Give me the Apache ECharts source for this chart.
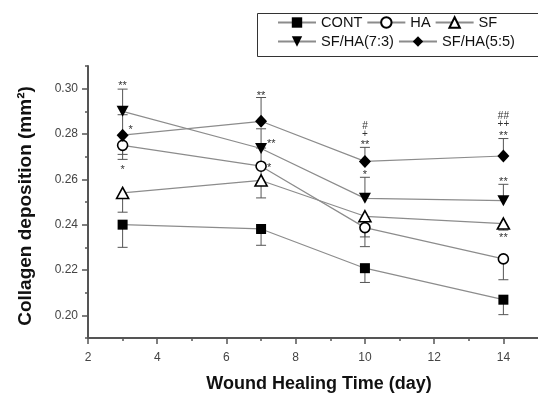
<!DOCTYPE html>
<html><head><meta charset="utf-8">
<script src="https://cdn.jsdelivr.net/npm/echarts@6/dist/echarts.min.js"></script>
<style>html,body{margin:0;padding:0;background:#fff}#c{width:538px;height:398px}</style>
</head><body><div id="c"></div>
<script>
// ---- data ----
const days = [3, 7, 10, 14];
const cont   = [0.2400, 0.2381, 0.2208, 0.2069];
const ha     = [0.2750, 0.2658, 0.2387, 0.2249];
const sf     = [0.2540, 0.2595, 0.2437, 0.2405];
const sfha73 = [0.2900, 0.2736, 0.2516, 0.2506];
const sfha55 = [0.2795, 0.2856, 0.2679, 0.2703];
// error bars (upper / lower lengths)
const contUp   = [0, 0, 0, 0];           const contDown   = [0.0100, 0.0072, 0.0063, 0.0066];
const haUp     = [0, 0.0080, 0, 0];      const haDown     = [0.0062, 0.0080, 0.0084, 0.0092];
const sfUp     = [0, 0, 0, 0];           const sfDown     = [0.0085, 0.0077, 0.0091, 0.0029];
const sfha73Up = [0.0098, 0.0087, 0.0093, 0.0072]; const sfha73Down = [0, 0, 0, 0];
const sfha55Up = [0.0090, 0.0105, 0.0062, 0.0077]; const sfha55Down = [0.0085, 0, 0, 0];
// significance marks: [day, value, text, side]
const marks = [
  [3, 0.3023, '**', 'c'], [3, 0.2830, '*', 'r'], [3, 0.2654, '*', 'c'],
  [7, 0.2983, '**', 'c'], [7, 0.2770, '**', 'r'], [7, 0.2665, '*', 'r'],
  [10, 0.2836, '#', 'c'], [10, 0.2798, '+', 'c'], [10, 0.2766, '**', 'c'], [10, 0.2633, '*', 'c'],
  [14, 0.2880, '##', 'c'], [14, 0.2843, '++', 'c'], [14, 0.2806, '**', 'c'], [14, 0.2600, '**', 'c'], [14, 0.2355, '**', 'c']
];
const xTickLabels = [2, 4, 6, 8, 10, 12, 14];
const xMinorTicks = [3, 5, 7, 9, 11, 13];
const yTickLabels = [0.20, 0.22, 0.24, 0.26, 0.28, 0.30];
const yMinorTicks = [0.19, 0.21, 0.23, 0.25, 0.27, 0.29, 0.31];

// ---- build ----
const FONT = 'Liberation Sans, Arial, sans-serif';
const groups = [
  {name: 'CONT', v: cont, up: contUp, down: contDown, symbol: 'rect', size: 10, fill: '#000'},
  {name: 'HA', v: ha, up: haUp, down: haDown, symbol: 'circle', size: 10, fill: '#fff'},
  {name: 'SF', v: sf, up: sfUp, down: sfDown, symbol: 'triangle', size: [12, 11], fill: '#fff'},
  {name: 'SF/HA(7:3)', v: sfha73, up: sfha73Up, down: sfha73Down, symbol: 'path://M0,0 L12,0 L6,11 Z', size: [12, 11], fill: '#000'},
  {name: 'SF/HA(5:5)', v: sfha55, up: sfha55Up, down: sfha55Down, symbol: 'path://M6,0 L12,6.5 L6,13 L0,6.5 Z', size: [12, 13], fill: '#000'}
];
const errSegs = [];
groups.forEach(g => {
  days.forEach((d, i) => {
    if (g.up[i] > 0) errSegs.push([d, g.v[i], g.v[i] + g.up[i]]);
    if (g.down[i] > 0) errSegs.push([d, g.v[i], g.v[i] - g.down[i]]);
  });
});

const lineSeries = groups.map(g => ({
  name: g.name,
  type: 'line',
  data: days.map((d, i) => [d, g.v[i]]),
  symbol: g.symbol,
  symbolSize: g.size,
  showAllSymbol: true,
  z: 5,
  lineStyle: {color: '#8c8c8c', width: 1.2},
  itemStyle: {color: g.fill, borderColor: '#000', borderWidth: g.fill === '#fff' ? 1.6 : 0, opacity: 1},
  emphasis: {disabled: true},
  animation: false
}));

const legendBase = {
  left: 277, padding: 0, itemWidth: 38, itemHeight: 13, itemGap: 4,
  textStyle: {fontSize: 14.6, color: '#111', fontFamily: FONT},
  selectedMode: false
};

const option = {
  animation: false,
  grid: {left: 88, right: -4, top: 66, bottom: 55},
  xAxis: [{
    type: 'value', min: 2, max: 15, interval: 1,
    axisLine: {lineStyle: {color: '#555', width: 2}},
    axisTick: {customValues: xTickLabels, length: 6, lineStyle: {color: '#555', width: 1.5}},
    axisLabel: {customValues: xTickLabels, margin: 14, fontSize: 12, color: '#444', fontFamily: FONT},
    splitLine: {show: false},
    name: 'Wound Healing Time (day)', nameLocation: 'middle', nameGap: 37,
    nameTextStyle: {fontSize: 18, fontWeight: 'bold', color: '#111', fontFamily: FONT, padding: [0, 0, 0, 12]}
  }, {
    type: 'value', min: 2, max: 15, interval: 1, position: 'bottom',
    axisLine: {show: false},
    axisTick: {customValues: xMinorTicks, length: 3, lineStyle: {color: '#555', width: 1.5}},
    axisLabel: {show: false}, splitLine: {show: false}
  }],
  yAxis: [{
    type: 'value', min: 0.19, max: 0.31, interval: 0.01,
    axisLine: {show: true, lineStyle: {color: '#555', width: 2}},
    axisTick: {show: true, customValues: yTickLabels, length: 6, lineStyle: {color: '#555', width: 1.5}},
    axisLabel: {customValues: yTickLabels, margin: 10, fontSize: 12, color: '#444', fontFamily: FONT,
      formatter: v => v.toFixed(2)},
    splitLine: {show: false},
    name: 'Collagen deposition (mm²)', nameLocation: 'middle', nameGap: 53,
    nameTextStyle: {fontSize: 19, fontWeight: 'bold', color: '#111', fontFamily: FONT, padding: [0, 8, 0, 0]}
  }, {
    type: 'value', min: 0.19, max: 0.31, interval: 0.01, position: 'left',
    axisLine: {show: false},
    axisTick: {show: true, customValues: yMinorTicks, length: 3, lineStyle: {color: '#555', width: 1.5}},
    axisLabel: {show: false}, splitLine: {show: false}
  }],
  legend: [
    Object.assign({data: ['CONT', 'HA', 'SF'], top: 15}, legendBase),
    Object.assign({data: ['SF/HA(7:3)', 'SF/HA(5:5)'], top: 34}, legendBase)
  ],
  graphic: [{
    type: 'rect', left: 255, top: 11, shape: {width: 281, height: 43},
    style: {fill: 'none', stroke: '#333', lineWidth: 1}, z: 100
  }],
  series: [
    {
      type: 'custom', name: 'err', z: 2, silent: true,
      data: errSegs, encode: {x: 0, y: [1, 2]},
      renderItem: (params, api) => {
        const x = api.value(0);
        const p0 = api.coord([x, api.value(1)]);
        const p1 = api.coord([x, api.value(2)]);
        return {type: 'group', children: [
          {type: 'line', shape: {x1: p0[0], y1: p0[1], x2: p1[0], y2: p1[1]}, style: {stroke: '#555', lineWidth: 1}},
          {type: 'line', shape: {x1: p1[0] - 5, y1: p1[1], x2: p1[0] + 5, y2: p1[1]}, style: {stroke: '#555', lineWidth: 1}}
        ]};
      }
    },
    ...lineSeries,
    {
      type: 'custom', name: 'marks', z: 6, silent: true,
      data: marks.map(m => [m[0], m[1]]), encode: {x: 0, y: 1},
      renderItem: (params, api) => {
        const m = marks[params.dataIndex];
        const p = api.coord([m[0], m[1]]);
        const isStar = m[2].indexOf('*') >= 0;
        return {type: 'text', x: p[0] + (m[3] === 'r' ? 6 : 0), y: p[1] + (isStar ? 3 : 0),
          style: {text: m[2], fontSize: isStar ? 11 : 10, fill: '#333', fontFamily: FONT,
            align: m[3] === 'r' ? 'left' : 'center', verticalAlign: 'middle'}};
      }
    }
  ]
};
const chart = echarts.init(document.getElementById('c'), null, {renderer: 'canvas'});
chart.setOption(option);
</script></body></html>
